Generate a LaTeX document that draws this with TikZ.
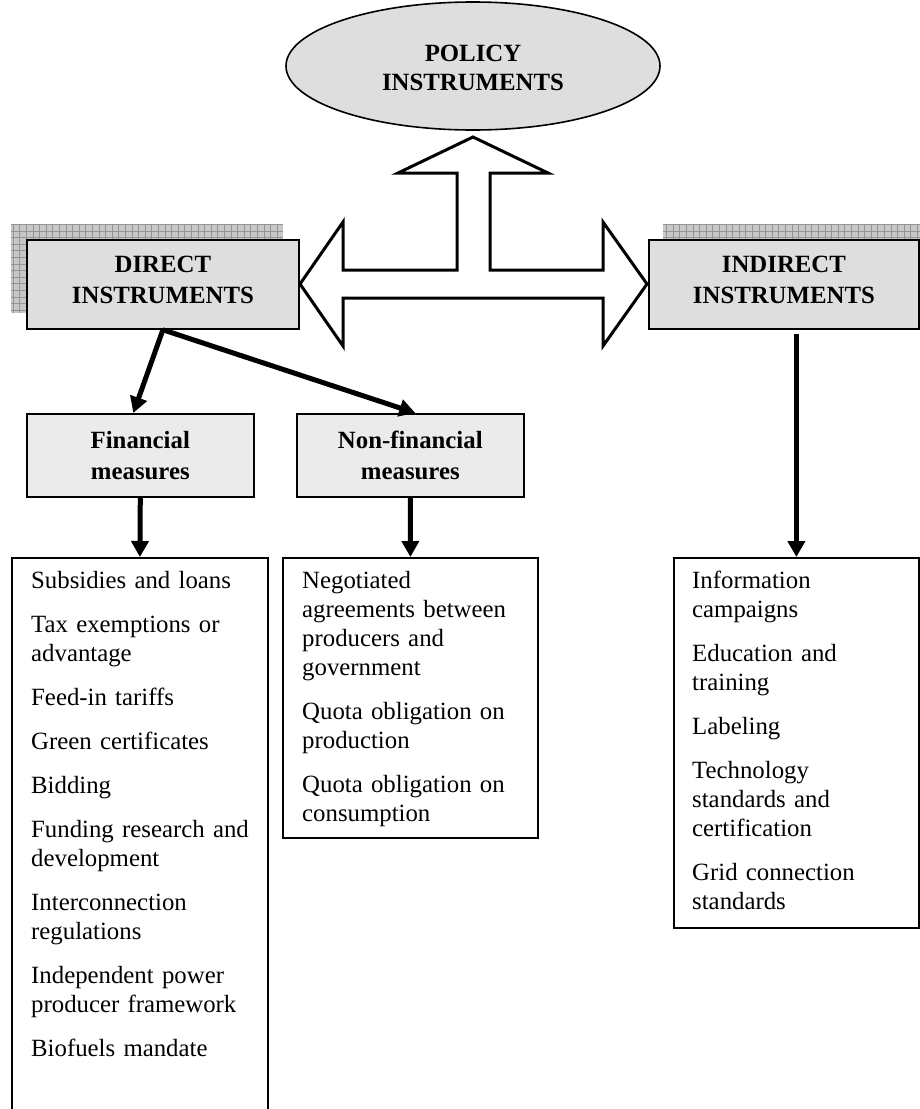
\documentclass[tikz,border=0pt]{standalone}
\usepackage{fontspec}
\setmainfont{Liberation Serif}
\usetikzlibrary{arrows.meta,shapes.geometric}
\begin{document}
\begin{tikzpicture}[x=1pt,y=-1pt,
  txtfont/.style={font=\fontsize{24.8}{29}\selectfont},
  headtext/.style={inner sep=0pt,align=center,font=\fontsize{24.8}{31}\selectfont\bfseries},
  bigbox/.style={draw=black,line width=1.8pt,fill=black!13,inner sep=0pt,
    minimum width=272pt,minimum height=89pt,anchor=north west},
  midbox/.style={draw=black,line width=1.6pt,fill=black!8,inner sep=0pt,align=center,
    font=\fontsize{24.8}{31}\selectfont\bfseries,minimum width=227pt,minimum height=83pt,anchor=north west},
  listbox/.style={draw=black,line width=1.8pt,fill=white,inner sep=0pt,anchor=north west},
  listtext/.style={txtfont,inner sep=0pt,anchor=north west,align=left,text width=240pt},
  thickarrow/.style={line width=5pt,-{Triangle[length=16pt,width=17pt]}},
  shadowfill/.style={fill=black!22},
  shadowgrid/.style={draw=black!42,line width=0.7pt}
]
\useasboundingbox (0,0) rectangle (920,1109);
\clip (0,0) rectangle (920,1109);

% shadows
\begin{scope}
  \clip (11,313) rectangle (283,224);
  \path[shadowfill] (11,313) rectangle (283,224);
  \draw[shadowgrid,step=6.6pt] (11,313) grid (283,224);
\end{scope}
\begin{scope}
  \clip (663,313) rectangle (933,224);
  \path[shadowfill] (663,313) rectangle (933,224);
  \draw[shadowgrid,step=6.6pt] (663,313) grid (933,224);
\end{scope}

% ellipse
\node[ellipse,draw=black,line width=1.6pt,fill=black!13,minimum width=374pt,minimum height=128pt,
  inner sep=0pt] (policy) at (473,66) {};
\node[headtext,font=\fontsize{24.8}{29}\selectfont\bfseries] (policylabel) at ([yshift=-2pt]policy.center)
  {POLICY\\INSTRUMENTS};

% big T arrow
\draw[line width=3pt,fill=white,line join=miter] (473,137) -- (548,173) -- (490,173) -- (490,270)
  -- (603,270) -- (603,222) -- (647,284) -- (603,346) -- (603,298) -- (343,298) -- (343,346)
  -- (300,284) -- (343,222) -- (343,270) -- (457,270) -- (457,173) -- (398,173) -- cycle;

% main boxes
\node[bigbox] (direct) at (26,239) {};
\node[headtext] (directlabel) at ([yshift=4pt]direct.center) {DIRECT\\INSTRUMENTS};
\node[bigbox,minimum width=270pt] (indirect) at (648,239) {};
\node[headtext] (indirectlabel) at ([yshift=4pt]indirect.center) {INDIRECT\\INSTRUMENTS};

\node[midbox] (fin) at (26,413) {Financial\\measures};
\node[midbox] (nonfin) at (296,413) {Non-financial\\measures};

% list boxes
\node[listbox,minimum width=256pt,minimum height=570pt] (finlist) at (11,557) {};
\node[listbox,minimum width=255pt,minimum height=280pt] (nonfinlist) at (282,557) {};
\node[listbox,minimum width=245pt,minimum height=370pt] (indlist) at (673,557) {};

\node[listtext] (fintext) at ([shift={(20,10.5)}]finlist.north west)
  {\strut Subsidies and loans\\[15pt]
   Tax exemptions or\\advantage\\[15pt]
   Feed-in tariffs\\[15pt]
   Green certificates\\[15pt]
   Bidding\\[15pt]
   Funding research and\\development\\[15pt]
   Interconnection\\regulations\\[15pt]
   Independent power\\producer framework\\[15pt]
   Biofuels mandate};
\node[listtext] (nonfintext) at ([shift={(20,10.5)}]nonfinlist.north west)
  {\strut Negotiated\\agreements between\\producers and\\government\\[15pt]
   Quota obligation on\\production\\[15pt]
   Quota obligation on\\consumption};
\node[listtext] (indtext) at ([shift={(19,10.5)}]indlist.north west)
  {\strut Information\\campaigns\\[15pt]
   Education and\\training\\[15pt]
   Labeling\\[15pt]
   Technology\\standards and\\certification\\[15pt]
   Grid connection\\standards};

% connectors
\draw[thickarrow] (direct.south) -- ([xshift=-7pt]fin.north);
\draw[thickarrow] (direct.south) -- ([xshift=5pt]nonfin.north);
\draw[thickarrow] (fin.south) -- (finlist.north);
\draw[thickarrow] (nonfin.south) -- (nonfinlist.north);
\draw[thickarrow] ([yshift=-4pt]indirect.south -| indlist.north) -- (indlist.north);
\end{tikzpicture}
\end{document}
